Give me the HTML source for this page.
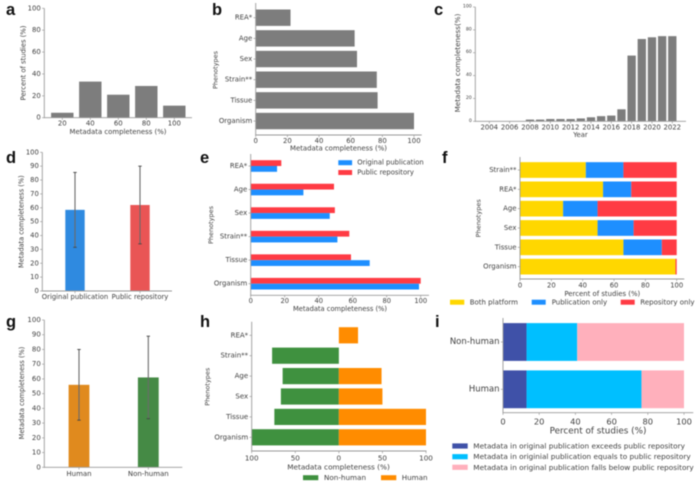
<!DOCTYPE html>
<html lang="en">
<head>
<meta charset="utf-8">
<title>Metadata completeness figure</title>
<style>
html,body{margin:0;padding:0;background:#fff;width:700px;height:484px;overflow:hidden}
svg{display:block;filter:blur(0.45px)}
text{font-family:"DejaVu Sans","Liberation Sans",sans-serif;fill:#404040}
.letter{font-family:"Liberation Sans",sans-serif;font-weight:700;font-size:16.5px;fill:#111}
</style>
</head>
<body>
<svg id="fig" width="700" height="484" viewBox="0 0 700 484" xmlns="http://www.w3.org/2000/svg"></svg>
<script>
// Panel a
const aCategories = ['20', '40', '60', '80', '100'];
const aValues = [4.5, 33, 21, 29, 11];
const aTicks = [0, 20, 40, 60, 80, 100];
// Panel b
const bCategories = ['REA*', 'Age', 'Sex', 'Strain**', 'Tissue', 'Organism'];
const bValues = [22, 62.5, 64, 76.5, 77, 100];
const bTicks = [0, 20, 40, 60, 80, 100];
// Panel c
const cYears = [2004, 2005, 2006, 2007, 2008, 2009, 2010, 2011, 2012, 2013, 2014, 2015, 2016, 2017, 2018, 2019, 2020, 2021, 2022];
const cValues = [0, 0, 0, 0, 1.5, 1.5, 2, 2, 2, 2.5, 3.5, 4.5, 5, 10.5, 57.5, 72, 73.5, 74.5, 74.5];
const cYTicks = [0, 20, 40, 60, 80, 100];
const cXTicks = [2004, 2006, 2008, 2010, 2012, 2014, 2016, 2018, 2020, 2022];
// Panel d
const dCategories = ['Original publication', 'Public repository'];
const dValues = [58.5, 62];
const dErrLow = [31.5, 34];
const dErrHigh = [85.5, 90];
const dTicks = [0, 10, 20, 30, 40, 50, 60, 70, 80, 90, 100];
// Panel e
const eCategories = ['REA*', 'Age', 'Sex', 'Strain**', 'Tissue', 'Organism'];
const ePublication = [15.5, 31, 46.5, 51, 70, 99];
const eRepository = [18, 49, 49.5, 58, 59, 100];
const eTicks = [0, 20, 40, 60, 80, 100];
// Panel f
const fCategories = ['Strain**', 'REA*', 'Age', 'Sex', 'Tissue', 'Organism'];
const fBoth = [42, 53, 27.5, 49.5, 66, 99.2];
const fPublication = [24, 18, 22, 23, 24.5, 0];
const fRepository = [34, 29, 50.5, 27.5, 9.5, 0.8];
const fTicks = [0, 20, 40, 60, 80, 100];
// Panel g
const gCategories = ['Human', 'Non-human'];
const gValues = [56, 61];
const gErrLow = [32, 33];
const gErrHigh = [80, 89];
const gTicks = [0, 10, 20, 30, 40, 50, 60, 70, 80, 90, 100];
// Panel h
const hCategories = ['REA*', 'Strain**', 'Age', 'Sex', 'Tissue', 'Organism'];
const hNonHuman = [0, 76.6, 64.5, 66.5, 74, 100];
const hHuman = [22, 0, 49, 50, 100, 100];
const hTicks = [100, 50, 0, 50, 100];
const hTickPositions = [-100, -50, 0, 50, 100];
// Panel i
const iCategories = ['Non-human', 'Human'];
const iExceeds = [13, 13];
const iEquals = [28, 63.5];
const iBelow = [59, 23.5];
const iTicks = [0, 20, 40, 60, 80, 100];

const NS = 'http://www.w3.org/2000/svg';
const svg = document.getElementById('fig');
const AXIS = '#9a9a9a';

function mk(tag, attrs, name) {
  const e = document.createElementNS(NS, tag);
  for (const k in attrs) e.setAttribute(k, attrs[k]);
  
  
  svg.appendChild(e);
  return e;
}
function txt(x, y, s, size, name, anchor, rot) {
  const a = {x: x, y: y, 'font-size': size, 'text-anchor': anchor || 'middle', 'dominant-baseline': 'central'};
  if (rot) a.transform = 'rotate(-90 ' + x + ' ' + y + ')';
  const e = mk('text', a, name);
  e.textContent = s;
  return e;
}
function scale(d0, d1, r0, r1) {
  return function (v) { return r0 + (v - d0) / (d1 - d0) * (r1 - r0); };
}
function line(x1, y1, x2, y2, stroke, w, name) {
  return mk('line', {x1: x1, y1: y1, x2: x2, y2: y2, stroke: stroke, 'stroke-width': w}, name);
}
function rect(x, y, w, h, fill, name) {
  return mk('rect', {x: x, y: y, width: Math.max(0, w), height: Math.max(0, h), fill: fill}, name);
}
function spines(x0, yTop, yBase, xRight, p) {
  line(x0, yTop, x0, yBase + 0.4, AXIS, 0.9, p + '-y-axis');
  line(x0 - 0.4, yBase, xRight, yBase, AXIS, 0.9, p + '-x-axis');
}
function yNumTicks(p, ticks, y, x0, size) {
  ticks.forEach(function (t) {
    line(x0 - 2.2, y(t), x0, y(t), AXIS, 0.7, p + '-y-tick');
    txt(x0 - 3.5, y(t), String(t), size, p + '-y-tick-label', 'end');
  });
}
function xNumTicks(p, ticks, x, yBase, labelY, size, labels) {
  ticks.forEach(function (t, i) {
    line(x(t), yBase, x(t), yBase + 2.2, AXIS, 0.7, p + '-x-tick');
    txt(x(t), labelY, String(labels ? labels[i] : t), size, p + '-x-tick-label');
  });
}
function yCatTicks(p, cats, yAt, x0, size) {
  cats.forEach(function (c, i) {
    line(x0 - 2.2, yAt(i), x0, yAt(i), AXIS, 0.7, p + '-y-tick');
    txt(x0 - 3.5, yAt(i), c, size, p + '-y-category-label', 'end');
  });
}
function stacked(p, cats, series, colors, names, yAt, h, x) {
  cats.forEach(function (c, i) {
    let acc = 0;
    series.forEach(function (s, k) {
      rect(x(acc), yAt(i) - h / 2, x(acc + s[i]) - x(acc), h, colors[k], p + '-bar-' + names[k]);
      acc += s[i];
    });
  });
}
function errorBar(p, cx, yLow, yHigh) {
  line(cx, yHigh, cx, yLow, '#6a6a6a', 1.1, p + '-error-bar');
  line(cx - 1.7, yHigh, cx + 1.7, yHigh, '#444', 0.9, p + '-error-cap-high');
  line(cx - 1.7, yLow, cx + 1.7, yLow, '#444', 0.9, p + '-error-cap-low');
}
function letter(x, y, s) {
  const e = mk('text', {x: x, y: y, class: 'letter'}, 'panel-label-' + s);
  e.textContent = s;
}

// Panel a
(function () {
  const y = scale(0, 100, 117.7, 8.3);
  const xc = function (i) { return 62.3 + i * 28; };
  aValues.forEach(function (v, i) {
    rect(xc(i) - 11.2, y(v), 22.4, y(0) - y(v), '#7d7d7d', 'a-bar-' + aCategories[i]);
  });
  spines(44.3, 8.3, 117.7, 192, 'a');
  yNumTicks('a', aTicks, y, 44.3, 6.9);
  aCategories.forEach(function (c, i) {
    line(xc(i), 117.7, xc(i), 119.9, AXIS, 0.7, 'a-x-tick');
    txt(xc(i), 123.5, c, 6.9, 'a-x-tick-label');
  });
  txt(118, 131.8, 'Metadata completeness (%)', 6.9, 'a-x-axis-title');
  txt(23.3, 63, 'Percent of studies (%)', 6.8, 'a-y-axis-title', 'middle', true);
})();

// Panel b
(function () {
  const x = scale(0, 100, 255.7, 414);
  const yAt = function (i) { return 17.7 + i * 20.67; };
  bValues.forEach(function (v, i) {
    rect(x(0), yAt(i) - 8.2, x(v) - x(0), 16.4, '#7d7d7d', 'b-bar-' + bCategories[i]);
  });
  spines(255.7, 3, 135, 421.7, 'b');
  yCatTicks('b', bCategories, yAt, 255.7, 6.9);
  xNumTicks('b', bTicks, x, 135, 140.8, 6.9);
  txt(338.5, 148.3, 'Metadata completeness (%)', 6.9, 'b-x-axis-title');
  txt(215.7, 70, 'Phenotypes', 6.5, 'b-y-axis-title', 'middle', true);
})();

// Panel c
(function () {
  const x = scale(2004, 2022, 489.3, 672.3);
  const y = scale(0, 100, 121.3, 7);
  cValues.forEach(function (v, i) {
    rect(x(cYears[i]) - 4.15, y(v), 8.3, y(0) - y(v), '#7d7d7d', 'c-bar-' + cYears[i]);
  });
  spines(475.3, 7, 121.3, 686, 'c');
  yNumTicks('c', cYTicks, y, 475.3, 4.7);
  xNumTicks('c', cXTicks, x, 121.3, 127.5, 6.9);
  txt(580.5, 135, 'Year', 6.8, 'c-x-axis-title');
  txt(457.7, 63, 'Metadata completeness(%)', 7.2, 'c-y-axis-title', 'middle', true);
})();

// Panel d
(function () {
  const y = scale(0, 100, 291, 152.3);
  const xc = [75, 140];
  const colors = ['#2f8ae0', '#e95555'];
  dValues.forEach(function (v, i) {
    rect(xc[i] - 9.7, y(v), 19.4, y(0) - y(v), colors[i], 'd-bar-' + dCategories[i]);
    errorBar('d', xc[i], y(dErrLow[i]), y(dErrHigh[i]));
  });
  spines(42.3, 152.3, 291, 172, 'd');
  yNumTicks('d', dTicks, y, 42.3, 6.8);
  dCategories.forEach(function (c, i) {
    line(xc[i], 291, xc[i], 293.2, AXIS, 0.7, 'd-x-tick');
    txt(xc[i], 297.2, c, 6.8, 'd-x-tick-label');
  });
  txt(21.7, 221.7, 'Metadata completeness (%)', 6.6, 'd-y-axis-title', 'middle', true);
})();

// Panel e
(function () {
  const x = scale(0, 100, 250.7, 420.7);
  const yAt = function (i) { return 166 + i * 23.54; };
  const h = 5.8;
  eCategories.forEach(function (c, i) {
    rect(x(0), yAt(i) - h, x(eRepository[i]) - x(0), h, '#ff3b44', 'e-bar-repository-' + c);
    rect(x(0), yAt(i), x(ePublication[i]) - x(0), h, '#1e8fff', 'e-bar-publication-' + c);
  });
  spines(250.7, 154, 295.3, 429, 'e');
  yCatTicks('e', eCategories, yAt, 250.7, 6.9);
  xNumTicks('e', eTicks, x, 295.3, 300.8, 6.7);
  txt(340, 309, 'Metadata completeness (%)', 6.7, 'e-x-axis-title');
  txt(211, 225, 'Phenotypes', 6.5, 'e-y-axis-title', 'middle', true);
  rect(338.3, 160.2, 13.8, 5, '#1e8fff', 'e-legend-swatch-publication');
  txt(357.3, 162.7, 'Original publication', 6.8, 'e-legend-label-publication', 'start');
  rect(338.3, 170, 13.8, 5, '#ff3b44', 'e-legend-swatch-repository');
  txt(357.3, 172.5, 'Public repository', 6.8, 'e-legend-label-repository', 'start');
})();

// Panel f
(function () {
  const x = scale(0, 100, 520, 676.7);
  const yAt = function (i) { return 170 + i * 19.33; };
  stacked('f', fCategories, [fBoth, fPublication, fRepository], ['#ffd700', '#1e8fff', '#ff3b44'], ['both', 'publication', 'repository'], yAt, 15.7, x);
  spines(520, 157, 279, 684.3, 'f');
  yCatTicks('f', fCategories, yAt, 520, 6.9);
  xNumTicks('f', fTicks, x, 279, 285.5, 6.8);
  txt(602.3, 293.8, 'Percent of studies (%)', 6.9, 'f-x-axis-title');
  txt(478.3, 218.3, 'Phenotypes', 6.5, 'f-y-axis-title', 'middle', true);
  rect(450, 299.7, 14.3, 5, '#ffd700', 'f-legend-swatch-both');
  txt(469.7, 302.3, 'Both platform', 7, 'f-legend-label-both', 'start');
  rect(531.7, 299.7, 14, 5, '#1e8fff', 'f-legend-swatch-publication');
  txt(551.7, 302.3, 'Publication only', 7, 'f-legend-label-publication', 'start');
  rect(620.7, 299.7, 14, 5, '#ff3b44', 'f-legend-swatch-repository');
  txt(640.3, 302.3, 'Repository only', 7, 'f-legend-label-repository', 'start');
})();

// Panel g
(function () {
  const y = scale(0, 100, 467.3, 320);
  const xc = [79, 148.3];
  const colors = ['#e08a1e', '#458a45'];
  gValues.forEach(function (v, i) {
    rect(xc[i] - 10.4, y(v), 20.8, y(0) - y(v), colors[i], 'g-bar-' + gCategories[i]);
    errorBar('g', xc[i], y(gErrLow[i]), y(gErrHigh[i]));
  });
  spines(44.3, 320, 467.3, 182.3, 'g');
  yNumTicks('g', gTicks, y, 44.3, 7);
  gCategories.forEach(function (c, i) {
    line(xc[i], 467.3, xc[i], 469.5, AXIS, 0.7, 'g-x-tick');
    txt(xc[i], 473.8, c, 7, 'g-x-tick-label');
  });
  txt(22, 393, 'Metadata completeness (%)', 6.6, 'g-y-axis-title', 'middle', true);
})();

// Panel h
(function () {
  const x = scale(-100, 100, 251.7, 426);
  const yAt = function (i) { return 335.3 + i * 20.4; };
  hCategories.forEach(function (c, i) {
    rect(x(-hNonHuman[i]), yAt(i) - 8.1, x(0) - x(-hNonHuman[i]), 16.2, '#3f913f', 'h-bar-non-human-' + c);
    rect(x(0), yAt(i) - 8.1, x(hHuman[i]) - x(0), 16.2, '#ff8c00', 'h-bar-human-' + c);
  });
  spines(251.7, 321.7, 451, 426.5, 'h');
  yCatTicks('h', hCategories, yAt, 251.7, 7);
  xNumTicks('h', hTickPositions, x, 451, 457.8, 7.2, hTicks);
  txt(338.5, 466.8, 'Metadata completeness (%)', 7.3, 'h-x-axis-title');
  txt(207.7, 386.7, 'Phenotypes', 6.5, 'h-y-axis-title', 'middle', true);
  rect(303, 475.2, 15.3, 5, '#3f913f', 'h-legend-swatch-non-human');
  txt(324, 477.7, 'Non-human', 7.2, 'h-legend-label-non-human', 'start');
  rect(381, 475.2, 15.3, 5, '#ff8c00', 'h-legend-swatch-human');
  txt(401.7, 477.7, 'Human', 7.2, 'h-legend-label-human', 'start');
})();

// Panel i
(function () {
  const x = scale(0, 100, 503, 684);
  const yAt = function (i) { return 342 + i * 47.3; };
  stacked('i', iCategories, [iExceeds, iEquals, iBelow], ['#3f51a8', '#00bfff', '#ffb0bc'], ['exceeds', 'equals', 'below'], yAt, 37.8, x);
  spines(503, 318, 412.7, 693.3, 'i');
  yCatTicks('i', iCategories, yAt, 503, 8.5);
  xNumTicks('i', iTicks, x, 412.7, 421.3, 8.3);
  txt(598, 431.7, 'Percent of studies (%)', 8.8, 'i-x-axis-title');
  rect(452.3, 443.4, 15.4, 5.2, '#3f51a8', 'i-legend-swatch-exceeds');
  txt(473.3, 446, 'Metadata in original publication exceeds public repository', 7.3, 'i-legend-label-exceeds', 'start');
  rect(452.3, 454.1, 15.4, 5.2, '#00bfff', 'i-legend-swatch-equals');
  txt(473.3, 456.7, 'Metadata in originial publication equals to public repository', 7.3, 'i-legend-label-equals', 'start');
  rect(452.3, 464.7, 15.4, 5.2, '#ffb0bc', 'i-legend-swatch-below');
  txt(473.3, 467.3, 'Metadata in original publication falls below public repository', 7.3, 'i-legend-label-below', 'start');
})();

letter(6, 15, 'a');
letter(212, 15, 'b');
letter(434, 15, 'c');
letter(6, 163, 'd');
letter(200, 163, 'e');
letter(442, 163, 'f');
letter(6, 327, 'g');
letter(200, 327, 'h');
letter(435, 327, 'i');
</script>
</body>
</html>
